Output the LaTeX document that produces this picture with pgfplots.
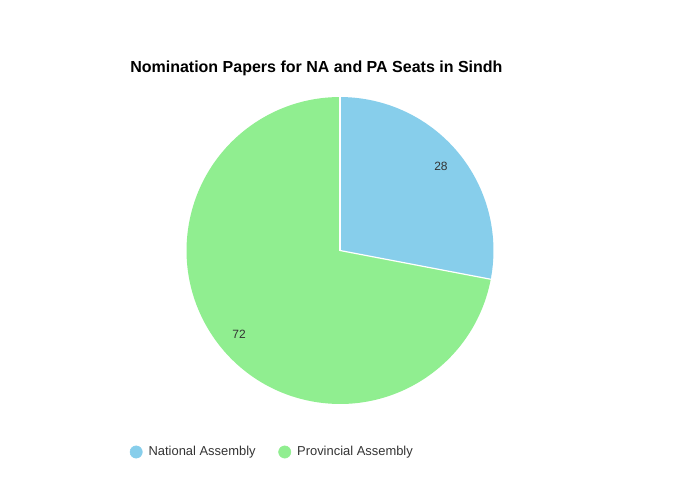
\documentclass[border=0pt]{standalone}
\usepackage{pgfplots}
\pgfplotsset{compat=1.18}
\usepackage{fontspec}
\setmainfont{Liberation Sans}

\definecolor{naBlue}{HTML}{87CEEB}
\definecolor{paGreen}{HTML}{90EE90}
\definecolor{txtGray}{HTML}{333333}

% slice values
\def\valNA{28}
\def\valPA{72}
% pie geometry (pixels of a 680x500 canvas, 1px = 0.75pt)
\def\cx{340}
\def\cy{249.5}
\def\R{115.1pt}
\pgfmathsetmacro\total{\valNA+\valPA}
\pgfmathsetmacro\split{90-360*\valNA/\total}
\pgfmathsetmacro\midNA{90-180*\valNA/\total}
\pgfmathsetmacro\midPA{\split-180*\valPA/\total}
\pgfmathsetmacro\lxNA{\cx+131*cos(\midNA)}
\pgfmathsetmacro\lyNA{\cy+131*sin(\midNA)}
\pgfmathsetmacro\lxPA{\cx+131*cos(\midPA)}
\pgfmathsetmacro\lyPA{\cy+131*sin(\midPA)}

\begin{document}
\begin{tikzpicture}
\useasboundingbox (0,0) rectangle (510pt,375pt);
\begin{axis}[
    at={(0,0)}, anchor=south west,
    x=0.75pt, y=0.75pt,
    xmin=0, xmax=680, ymin=0, ymax=500,
    hide axis,
    scale only axis,
    clip=false,
    legend columns=2,
    legend style={at={(axis cs:129.5,48)}, anchor=west, draw=none, fill=none,
        font=\fontsize{9.7}{11}\selectfont\color{txtGray},
        /tikz/every odd column/.append style={column sep=2.5pt},
        /tikz/every even column/.append style={column sep=15pt},
        inner sep=0pt},
    legend image code/.code={\fill[#1] (3pt,0pt) circle (4.6pt);},
]
\addlegendimage{naBlue, fill=naBlue}
\addlegendentry{National Assembly}
\addlegendimage{paGreen, fill=paGreen}
\addlegendentry{Provincial Assembly}

\fill[naBlue] (axis cs:\cx,\cy) -- ++(90:\R) arc[start angle=90, end angle=\split, radius=\R] -- cycle;
\fill[paGreen] (axis cs:\cx,\cy) -- ++(\split:\R) arc[start angle=\split, end angle=-270, radius=\R] -- cycle;
\draw[white, line width=0.9pt] (axis cs:\cx,\cy) -- ++(90:\R);
\draw[white, line width=0.9pt] (axis cs:\cx,\cy) -- ++(\split:\R);

\node[txtGray, font=\fontsize{9}{11}\selectfont] at (axis cs:\lxNA,\lyNA+0.5) {\valNA};
\node[txtGray, font=\fontsize{9}{11}\selectfont] at (axis cs:\lxPA,\lyPA) {\valPA};

\node[anchor=base west, inner sep=0pt, font=\fontsize{12}{14}\selectfont\bfseries] at (axis cs:130,427) {Nomination Papers for NA and PA Seats in Sindh};
\end{axis}
\end{tikzpicture}
\end{document}
